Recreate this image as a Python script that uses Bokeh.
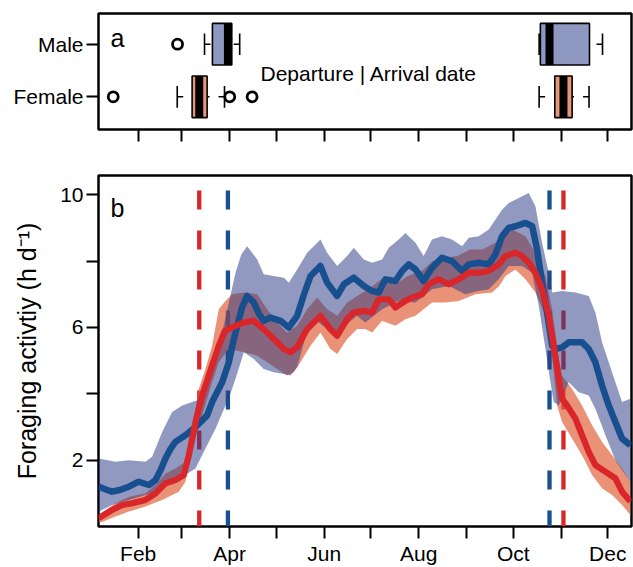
from bokeh.plotting import figure
from bokeh.layouts import column
from bokeh.models import Range1d, FixedTicker, Label
from bokeh.embed import file_html
from bokeh.resources import INLINE

# ---------------- data ----------------
# day of year for month starts (x ticks)
labeled_month_days = [32, 91, 152, 213, 274, 335]
month_labels = ["Feb", "Apr", "Jun", "Aug", "Oct", "Dec"]
unlabeled_month_days = [60, 121, 182, 244, 305]

y_ticks = [2, 6, 10]
y_minor_ticks = [4, 8]

# Male mean foraging activity (h/d)
male_day = [6.6, 12, 15.2, 20, 26, 32.4, 38.9, 43.2, 46.5, 49.6, 53, 56, 62.5, 69, 73.3, 76.5, 79.7, 86.2,
            90.5, 93, 95.9, 99, 102.3, 106.6, 110, 113, 117.4, 123.8, 129.2, 134.6, 139, 143.2, 149.6,
            153.9, 160.4, 164.7, 171.1, 177.6, 182.9, 187.2, 191.5, 198, 202.3, 206.6, 210.9, 216.2,
            221.6, 228, 234.5, 241, 245.3, 251.7, 258.2, 262.5, 266.8, 271, 275.4, 281.9, 286.2, 289.4,
            292.6, 295.8, 299.1, 301.2, 305.5, 309.8, 318.4, 322.7, 327, 331.3, 335.6, 339.9, 344.2, 349.6]
male_mean = [1.2, 1.1, 1.05, 1.1, 1.2, 1.35, 1.25, 1.4, 1.7, 2.05, 2.35, 2.55, 2.75, 3.0, 3.2, 3.35, 3.75, 4.35,
             4.95, 5.5, 6.05, 6.6, 6.95, 6.75, 6.4, 6.2, 6.3, 6.2, 6.0, 6.35, 7.0, 7.55, 7.85,
             7.35, 6.95, 7.3, 7.5, 7.25, 7.1, 7.05, 7.45, 7.4, 7.7, 7.9, 7.75, 7.4,
             7.8, 8.1, 8.0, 7.7, 7.9, 7.95, 7.9, 8.2, 8.75, 9.0, 9.05, 9.15, 9.05, 8.35,
             7.35, 6.45, 5.45, 5.35, 5.4, 5.55, 5.55, 5.35, 4.95, 4.25, 3.65, 3.15, 2.65, 2.45]

male_up_day = [6.6, 17.4, 26, 36.7, 41, 47.5, 53.9, 60.4, 66.8, 73.3, 79.7, 86.2, 90.5, 94.8, 98.5, 102.3,
               108.8, 113, 119.5, 126, 129.2, 134.6, 141, 145.3, 149.6, 153.9, 160.4, 166.8, 171.1, 177.6,
               182.9, 189.4, 193.7, 200.1, 204.4, 210.9, 216.2, 221.6, 228, 234.5, 241, 245.3, 251.7,
               258.2, 262.5, 266.8, 271.1, 277.6, 284, 288.3, 292.6, 296.9, 299.1, 305.5, 314.1, 322.7,
               327, 331.3, 335.6, 339.9, 344.2, 349.6]
male_up = [2.05, 1.95, 2.0, 1.95, 2.1, 2.85, 3.45, 3.65, 3.75, 3.85, 4.65, 5.85, 6.75, 7.65, 8.2, 8.45,
           8.05, 7.6, 7.55, 7.5, 7.35, 7.75, 8.25, 8.45, 8.65, 8.25, 7.85, 8.15, 8.4, 8.05,
           7.95, 8.05, 8.4, 8.65, 8.85, 8.55, 8.15, 8.65, 8.75, 8.65, 8.45, 8.7, 8.75,
           8.95, 9.25, 9.55, 9.75, 9.9, 10.05, 9.65, 8.55, 7.65, 7.05, 7.1, 7.05, 6.95,
           6.45, 5.55, 4.95, 4.35, 3.75, 3.85]

male_lo_day = [6.6, 15.2, 26, 36.7, 43.2, 49.6, 60.4, 69, 75.4, 81.9, 88.3, 91.5, 94.8, 100.2, 106.6, 113,
               119.5, 126, 130.3, 134.6, 141, 147, 153.9, 160.4, 166.8, 173, 178.6, 189.4, 200.1, 210.9,
               221.6, 232.4, 243.1, 251.7, 258.2, 264.6, 271.1, 279.7, 286.2, 290.5, 294.8, 298, 300.1,
               303.4, 309.8, 316.3, 322.7, 327, 333.5, 339.9, 346.4, 349.6]
male_lo = [0.45, 0.65, 0.8, 0.95, 1.05, 1.3, 1.5, 1.75, 2.35, 2.95, 3.65, 4.0, 4.45, 5.25, 5.05, 4.75,
           4.65, 4.6, 4.55, 4.8, 5.9, 6.2, 5.95, 5.8, 6.1, 6.35, 6.15, 6.55, 6.8, 6.75,
           7.15, 7.25, 7.0, 7.1, 7.15, 7.45, 7.85, 7.85, 7.65, 6.65, 5.35, 4.35, 3.75,
           3.65, 4.35, 4.05, 3.95, 3.55, 2.75, 2.0, 1.55, 1.35]

# Female mean foraging activity (h/d)
female_day = [6.6, 15.2, 21.7, 28.1, 36.7, 43.2, 49.6, 56, 61.4, 64.7, 69, 73.3, 79.7, 84, 88, 92.6, 100.2,
              106.6, 113, 119.5, 126, 130.3, 134.6, 141, 149.6, 156, 160.4, 166.8, 171.1, 177.6, 182.9,
              187.2, 193.7, 198, 204.4, 208.7, 215.2, 219.5, 225.9, 232.4, 238.8, 245.3, 251.7, 258.2,
              264.6, 269, 275.4, 279.7, 284, 288.3, 292.6, 296.9, 300.1, 303.4, 305.5, 308.7, 314.1,
              318.4, 322.7, 327, 333.5, 339.9, 344.2, 349.6]
female_mean = [0.25, 0.5, 0.65, 0.7, 0.8, 1.0, 1.3, 1.4, 1.55, 2.15, 3.15, 3.95, 4.85, 5.45, 5.9, 6.0, 6.15,
               6.2, 5.95, 5.65, 5.35, 5.25, 5.4, 5.95, 6.35, 5.95, 5.75, 6.25, 6.45, 6.5, 6.45,
               6.85, 6.85, 6.6, 6.8, 6.9, 7.0, 7.3, 7.45, 7.3, 7.45, 7.65, 7.65, 7.7,
               7.9, 8.15, 8.25, 8.15, 7.95, 7.65, 7.15, 6.35, 5.45, 4.45, 3.85, 3.65, 3.25,
               2.75, 2.25, 1.85, 1.65, 1.45, 1.05, 0.75]

female_up_day = [6.6, 17.4, 26, 36.7, 43.2, 49.6, 56, 62.5, 66.8, 71.1, 75.4, 79.7, 84, 88.3, 92.6, 100.2,
                 108.8, 115.2, 121.7, 128.1, 134.6, 141, 147.5, 153.9, 160.4, 166.8, 173.3, 181.9, 190,
                 198, 206, 215, 222, 230, 238, 246, 254, 262.5, 273.3, 281.9, 288.3, 294.8, 299.1, 303.4,
                 305.5, 311.9, 318.4, 324.9, 331.3, 337.8, 344.2, 349.6]
female_up = [0.35, 0.7, 0.9, 1.0, 1.25, 1.6, 1.75, 1.95, 2.95, 4.15, 4.75, 5.45, 6.55, 6.8, 7.0, 7.05,
             7.0, 6.55, 6.15, 5.85, 6.05, 6.55, 6.9, 6.55, 6.35, 6.75, 6.95, 7.2, 7.5,
             7.3, 7.55, 7.7, 8.0, 8.1, 8.15, 8.35, 8.35, 8.55, 8.95, 8.75, 8.25, 7.55, 6.55, 5.05,
             4.55, 4.15, 3.65, 3.05, 2.55, 2.15, 1.75, 1.35]

female_lo_day = [6.6, 17.4, 26, 36.7, 47.5, 58.2, 62.5, 66.8, 73.3, 79.7, 84, 90.5, 100.2, 108.8, 115.2,
                 121.7, 128.1, 132.4, 136.7, 143.2, 149.6, 156, 160.4, 166.8, 173.3, 178.6, 182.9, 189.4,
                 198, 204.4, 210.9, 221.6, 230.2, 238.8, 249.6, 260.3, 265, 269, 275.4, 281.9, 288.3,
                 294.8, 299.1, 302.3, 305.5, 311.9, 318.4, 324.9, 331.3, 337.8, 344.2, 349.6]
female_lo = [0.1, 0.3, 0.45, 0.6, 0.8, 1.05, 1.35, 2.35, 3.35, 4.35, 4.95, 5.35, 5.25, 5.15, 4.95,
             4.75, 4.55, 4.65, 4.95, 5.45, 5.85, 5.35, 5.2, 5.65, 5.95, 5.95, 5.85, 6.2,
             6.05, 6.25, 6.35, 6.75, 6.75, 6.8, 7.0, 7.05, 7.25, 7.55, 7.75, 7.45, 7.05,
             6.35, 5.15, 3.65, 3.15, 2.65, 2.15, 1.55, 1.15, 0.95, 0.65, 0.35]

# Box plots of departure / arrival dates (day of year); order: Male, Female
sexes = ["Male", "Female"]
dep_whisk_lo = [74.8, 57.2]
dep_q1 = [79.9, 66.8]
dep_med = [89.9, 71.4]
dep_q3 = [92.4, 76.5]
dep_whisk_hi = [97.5, 87.7]
arr_whisk_lo = [290.7, 290.7]
arr_q1 = [291.5, 300.8]
arr_med = [297.4, 306.4]
arr_q3 = [323.2, 312.0]
arr_whisk_hi = [331.6, 322.9]
male_dep_outliers = [57.4]
female_dep_outliers = [15.9, 91.1, 105.5]

# ---------------- style ----------------
FONT = "Liberation Sans"
BLUE_LINE = "#174f8f"
RED_LINE = "#d8262a"
BLUE_FILL = "#2d3c87"
SALMON_FILL = "#e05f37"
BOX_BLUE = "#8f98c0"
BOX_SALMON = "#e8967a"
X_START, X_END = 6.4, 350.3
SEX_Y = {"Male": 1.0, "Female": 0.0}
BOX_HALF = 0.396
STAPLE_HALF = 0.206
DASH_TOP = 10.13


def style_axes(p):
    p.outline_line_color = "black"
    p.outline_line_width = 2.5
    p.grid.visible = False
    for ax in p.axis:
        ax.axis_line_color = None
        ax.major_tick_out = 12
        ax.major_tick_in = 0
        ax.major_tick_line_width = 2
        ax.major_tick_line_color = "black"
        ax.minor_tick_out = 12
        ax.minor_tick_in = 0
        ax.minor_tick_line_width = 2
        ax.minor_tick_line_color = "black"
        ax.major_label_text_font = FONT
        ax.major_label_text_font_size = "21px"
        ax.major_label_text_color = "black"
        ax.major_label_standoff = 3


# ---------------- panel a ----------------
p1 = figure(width=633, height=150, output_backend="svg", toolbar_location=None,
            x_range=Range1d(X_START, X_END), y_range=Range1d(-0.622, 1.584),
            min_border_left=98, min_border_right=2, min_border_top=13, min_border_bottom=21)
style_axes(p1)
p1.xaxis.ticker = FixedTicker(ticks=[], minor_ticks=labeled_month_days + unlabeled_month_days)
p1.xaxis.major_label_standoff = 0
p1.yaxis.ticker = FixedTicker(ticks=[SEX_Y[s] for s in sexes], minor_ticks=[])
p1.yaxis.major_label_overrides = {SEX_Y[s]: s for s in sexes}

ys = [SEX_Y[s] for s in sexes]
fills = [BOX_BLUE, BOX_SALMON]
for wl, q1, md, q3, wh in [(dep_whisk_lo, dep_q1, dep_med, dep_q3, dep_whisk_hi),
                           (arr_whisk_lo, arr_q1, arr_med, arr_q3, arr_whisk_hi)]:
    # dashed whiskers (drawn from whisker end toward box)
    p1.segment(x0=wl, y0=ys, x1=q1, y1=ys, line_color="black", line_width=1.6, line_dash="6 9")
    p1.segment(x0=wh, y0=ys, x1=q3, y1=ys, line_color="black", line_width=1.6, line_dash="6 9")
    # staples
    p1.segment(x0=wl, y0=[y - STAPLE_HALF for y in ys], x1=wl, y1=[y + STAPLE_HALF for y in ys],
               line_color="black", line_width=1.6)
    p1.segment(x0=wh, y0=[y - STAPLE_HALF for y in ys], x1=wh, y1=[y + STAPLE_HALF for y in ys],
               line_color="black", line_width=1.6)
    # boxes
    p1.quad(left=q1, right=q3, bottom=[y - BOX_HALF for y in ys], top=[y + BOX_HALF for y in ys],
            fill_color=fills, line_color="black", line_width=1.6)
    # medians
    p1.segment(x0=md, y0=[y - BOX_HALF for y in ys], x1=md, y1=[y + BOX_HALF for y in ys],
               line_color="black", line_width=8)

p1.scatter(x=male_dep_outliers, y=[SEX_Y["Male"]] * len(male_dep_outliers), marker="circle", size=10,
           fill_color=None, line_color="black", line_width=2.8)
p1.scatter(x=female_dep_outliers, y=[SEX_Y["Female"]] * len(female_dep_outliers), marker="circle", size=10,
           fill_color=None, line_color="black", line_width=2.8)

p1.add_layout(Label(x=14.1, y=1.127, text="a", text_font=FONT, text_font_size="25px",
                    text_baseline="alphabetic", text_color="black"))
p1.add_layout(Label(x=110.9, y=0.437, text="Departure | Arrival date", text_font=FONT,
                    text_font_size="21px", text_baseline="alphabetic", text_color="black"))

# ---------------- panel b ----------------
p2 = figure(width=633, height=417, output_backend="svg", toolbar_location=None,
            x_range=Range1d(X_START, X_END), y_range=Range1d(0, 10.58),
            min_border_left=98, min_border_right=2, min_border_top=25, min_border_bottom=40)
style_axes(p2)
p2.xaxis.ticker = FixedTicker(ticks=labeled_month_days, minor_ticks=unlabeled_month_days)
p2.xaxis.major_label_overrides = {d: l for d, l in zip(labeled_month_days, month_labels)}
p2.yaxis.ticker = FixedTicker(ticks=y_ticks, minor_ticks=y_minor_ticks)
p2.yaxis.axis_label = "Foraging activtiy (h d\u207b\u00b9)"
p2.yaxis.axis_label_text_font = FONT
p2.yaxis.axis_label_text_font_size = "25px"
p2.yaxis.axis_label_text_font_style = "normal"
p2.yaxis.axis_label_text_color = "black"
p2.yaxis.axis_label_standoff = 16

# vertical dashed lines at median dates
p2.segment(x0=[dep_med[1], arr_med[1]], y0=[DASH_TOP] * 2, x1=[dep_med[1], arr_med[1]], y1=[0, 0],
           line_color=RED_LINE, line_width=4.3, line_dash="19 21")
p2.segment(x0=[dep_med[0], arr_med[0]], y0=[DASH_TOP] * 2, x1=[dep_med[0], arr_med[0]], y1=[0, 0],
           line_color=BLUE_LINE, line_width=4.3, line_dash="19 21")

# bands
p2.patch(x=female_up_day + female_lo_day[::-1], y=female_up + female_lo[::-1],
         fill_color=SALMON_FILL, fill_alpha=0.68, line_color=None)
p2.patch(x=male_up_day + male_lo_day[::-1], y=male_up + male_lo[::-1],
         fill_color=BLUE_FILL, fill_alpha=0.52, line_color=None)

# mean lines
p2.line(male_day, male_mean, line_color=BLUE_LINE, line_width=6.5, line_join="round")
p2.line(female_day, female_mean, line_color=RED_LINE, line_width=6.2, line_join="round")

p2.add_layout(Label(x=14.1, y=9.6, text="b", text_font=FONT, text_font_size="25px",
                    text_baseline="alphabetic", text_color="black"))

layout = column(p1, p2, spacing=0)
open("out.html", "w").write(file_html(layout, INLINE))
